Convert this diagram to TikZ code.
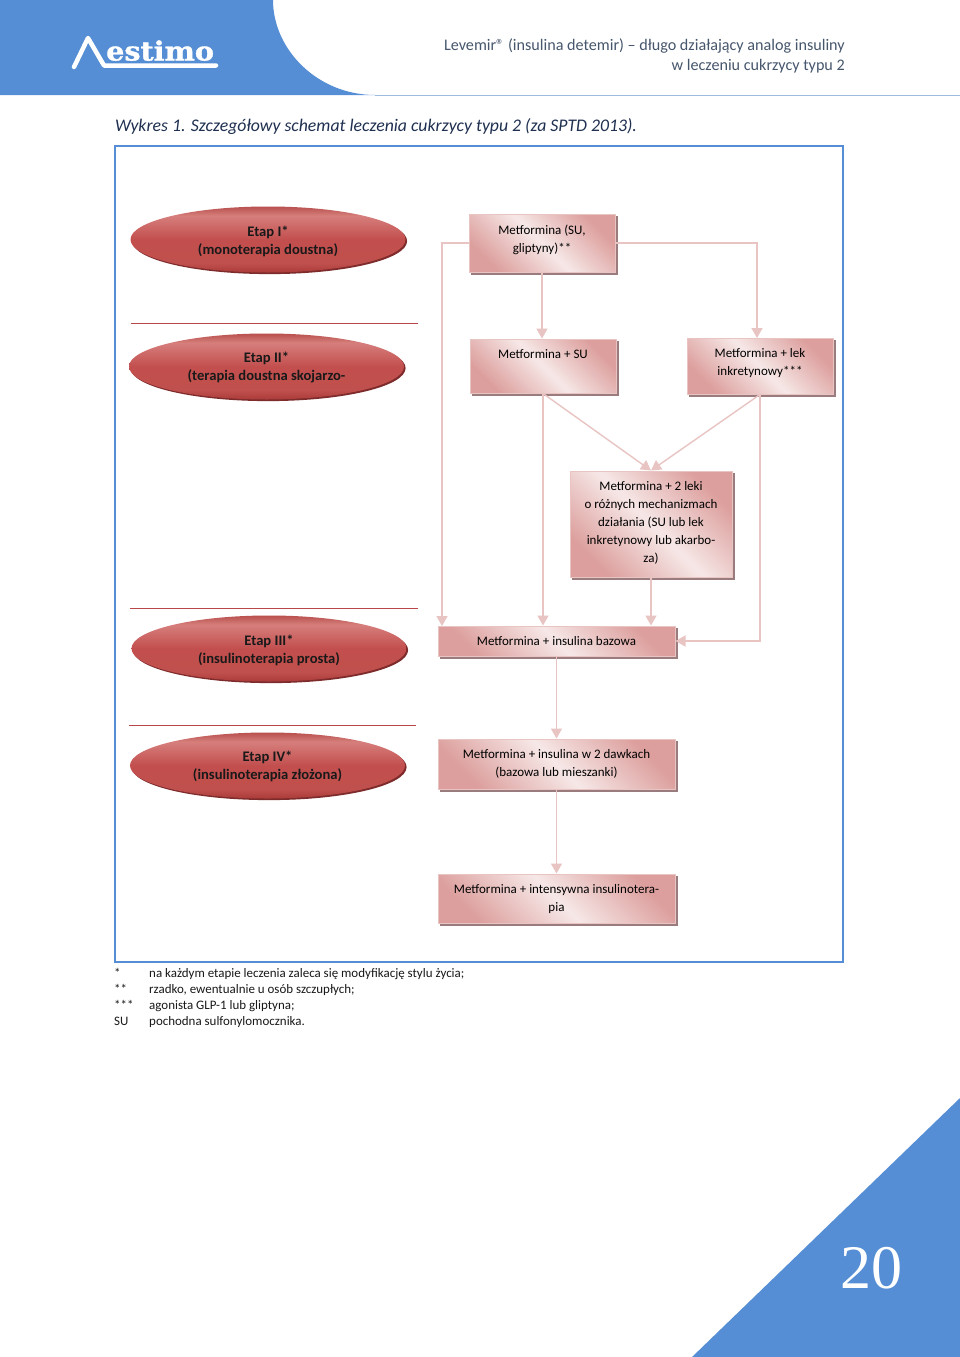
\documentclass[tikz,border=0pt]{standalone}
\usepackage{fontspec}
\setmainfont{Carlito}
\newfontfamily\logofont[BoldFeatures={FakeBold=1.2}]{DejaVu Serif}
\newfontfamily\numfont{Liberation Serif}
\usetikzlibrary{arrows.meta,shapes.geometric,shadows,backgrounds}
\definecolor{hblue}{HTML}{558ED5}
\definecolor{lline}{HTML}{E8C4C3}
\definecolor{lred}{HTML}{B8474A}
\definecolor{htext}{HTML}{46566C}
\definecolor{ttext}{HTML}{1F3050}
\definecolor{HB0}{HTML}{A93B3A}
\definecolor{HB1}{HTML}{C0504D}
\definecolor{HB2}{HTML}{C24F4E}
\definecolor{HB3}{HTML}{D67F7C}
\definecolor{HB4}{HTML}{B8504E}
\definecolor{boxdark}{HTML}{DC9F9D}
\definecolor{boxlight}{HTML}{F6E8E7}
\definecolor{boxshadow}{HTML}{9A7C7E}
\definecolor{ellshadow}{HTML}{7E2B2C}
\definecolor{hrule}{HTML}{9DBBDD}
\pgfdeclareverticalshading{ellshade}{100bp}{
 color(0bp)=(HB0); color(25bp)=(HB0); color(32bp)=(HB1); color(50bp)=(HB2); color(68bp)=(HB3); color(75bp)=(HB4); color(100bp)=(HB4)}
\newcommand{\bxt}[3]{\parbox[c][#2pt][t]{#1pt}{\centering\vspace{10.6pt}#3\par}}
\tikzset{
 boxn/.style={rectangle,inner sep=0pt,draw=lline,line width=1pt,
   left color=boxdark,right color=boxdark,middle color=boxlight,shading angle=135,
   font=\fontsize{13pt}{18pt}\selectfont,text=black},
 elln/.style={ellipse,inner sep=0pt,minimum width=275pt,minimum height=66pt,
   shading=ellshade,draw=none,
   drop shadow={shadow xshift=1.6pt,shadow yshift=-1.6pt,fill=ellshadow,opacity=1},
   align=center,font=\fontsize{14.6pt}{18pt}\selectfont\bfseries,text=black!90},
 conn/.style={draw=lline,line width=1.4pt,-{Triangle[length=10pt,width=11pt,fill=lline]}},
 sepl/.style={draw=lred,line width=1pt},
 foot/.style={inner sep=0pt,anchor=base west,font=\fontsize{12.95pt}{16pt}\selectfont,text=black!90},
}
\begin{document}
\begin{tikzpicture}[x=1pt,y=-1pt]
\useasboundingbox (0,0) rectangle (960,1357);
% header
\fill[hblue] (0,0) -- (273,0) .. controls (273,50) and (318,95) .. (375,95) -- (0,95) -- cycle;
\draw[draw=hrule,line width=1.2pt] (375,95.5) -- (960,95.5);
\draw[white,line width=4.5pt,line cap=round,line join=round] (74,67) -- (88,38) -- (104,65.5) -- (216,65.5);
\node[inner sep=0pt,anchor=base west,text=white,xscale=1.08,font=\logofont\bfseries\fontsize{26.5pt}{28pt}\selectfont] (logo) at (106,60.5) {estimo};
\node[inner sep=0pt,anchor=base east,text=htext,font=\fontsize{16.15pt}{20pt}\selectfont] (h1) at (845,50) {Levemir® (insulina detemir) – długo działający analog insuliny};
\node[inner sep=0pt,anchor=base east,text=htext,font=\fontsize{16.15pt}{20pt}\selectfont] (h2) at (845,70) {w leczeniu cukrzycy typu 2};
\node[inner sep=0pt,anchor=base west,text=ttext,font=\fontsize{17.75pt}{22pt}\selectfont\itshape] (title) at (115,131) {Wykres 1. Szczegółowy schemat leczenia cukrzycy typu 2 (za SPTD 2013).};
% frame
\draw[draw=hblue,line width=1.2pt] (115,146) rectangle (843,962);
% separators
\coordinate (s1a) at (131,323); \coordinate (s1b) at (418,323);
\coordinate (s2a) at (130,608); \coordinate (s2b) at (418,608);
\coordinate (s3a) at (129,725); \coordinate (s3b) at (416,725);
\draw[sepl] (s1a) -- (s1b);
\draw[sepl] (s2a) -- (s2b);
\draw[sepl] (s3a) -- (s3b);
% ellipses
\node[elln] (e1) at (268,239.5) {\rule{0pt}{4pt}\\[-8.5pt]Etap I*\\(monoterapia doustna)};
\node[elln] (e2) at (266.5,366.5) {\rule{0pt}{4pt}\\[-9.5pt]Etap II*\\(terapia doustna skojarzo-};
\node[elln] (e3) at (269,648.5) {\rule{0pt}{4pt}\\[-8.5pt]Etap III*\\(insulinoterapia prosta)};
\node[elln] (e4) at (267.5,765.5) {\rule{0pt}{4pt}\\[-9.5pt]Etap IV*\\(insulinoterapia złożona)};
% boxes
\node[boxn] (b1) at (542,243) {\bxt{146}{58}{Metformina (SU,\\gliptyny)**}};
\node[boxn] (b2) at (543,366) {\bxt{146}{54}{Metformina + SU}};
\node[boxn] (b3) at (760,366) {\bxt{146}{56}{Metformina + lek\\inkretynowy***}};
\node[boxn] (b4) at (651,524) {\bxt{162}{106}{Metformina + 2 leki\\o różnych mechanizmach\\działania (SU lub lek\\inkretynowy lub akarbo-\\za)}};
\node[boxn] (b5) at (556.5,641) {\bxt{237}{30}{Metformina + insulina bazowa}};
\node[boxn] (b6) at (556.5,764) {\bxt{237}{50}{Metformina + insulina w 2 dawkach\\(bazowa lub mieszanki)}};
\node[boxn] (b7) at (556.5,898.5) {\bxt{237}{49}{Metformina + intensywna insulinotera-\\pia}};
% box shadows and page ground
\begin{scope}[on background layer]
\fill[white] (0,0) rectangle (960,1357);
\foreach \n in {b1,b2,b3,b4,b5,b6,b7}
  \fill[boxshadow] ([shift={(2.5,2.5)}]\n.north west) rectangle ([shift={(2.5,2.5)}]\n.south east);
\end{scope}
% connectors
\coordinate (in1) at (442,626);
\coordinate (in3) at (757,338);
\draw[conn] (b1.west) -| (in1);
\draw[conn] (b1.south) -- (b1.south |- b2.north);
\draw[conn] (b1.east) -| (in3);
\draw[conn] (b2.south) -- (b2.south |- b5.north);
\draw[conn] (b2.south) -- (b4.north);
\draw[conn] (b3.south) -- (b4.north);
\draw[conn] (b3.south) |- (b5.east);
\draw[conn] (b4.south) -- (b4.south |- b5.north);
\draw[conn] (b5.south) -- (b6.north);
\draw[conn] (b6.south) -- (b7.north);
% footnotes
\node[foot] (f1a) at (114,977) {*};
\node[foot] (f1b) at (149,977) {na każdym etapie leczenia zaleca się modyfikację stylu życia;};
\node[foot] (f2a) at (114,993) {**};
\node[foot] (f2b) at (149,993) {rzadko, ewentualnie u osób szczupłych;};
\node[foot] (f3a) at (114,1009) {***};
\node[foot] (f3b) at (149,1009) {agonista GLP-1 lub gliptyna;};
\node[foot] (f4a) at (114,1025) {SU};
\node[foot] (f4b) at (149,1025) {pochodna sulfonylomocznika.};
% corner
\fill[hblue] (960,1098) -- (960,1357) -- (692,1357) -- cycle;
\node[inner sep=0pt,anchor=base,text=white,font=\numfont\fontsize{62pt}{62pt}\selectfont] (pg) at (871,1288) {20};
\end{tikzpicture}
\end{document}
